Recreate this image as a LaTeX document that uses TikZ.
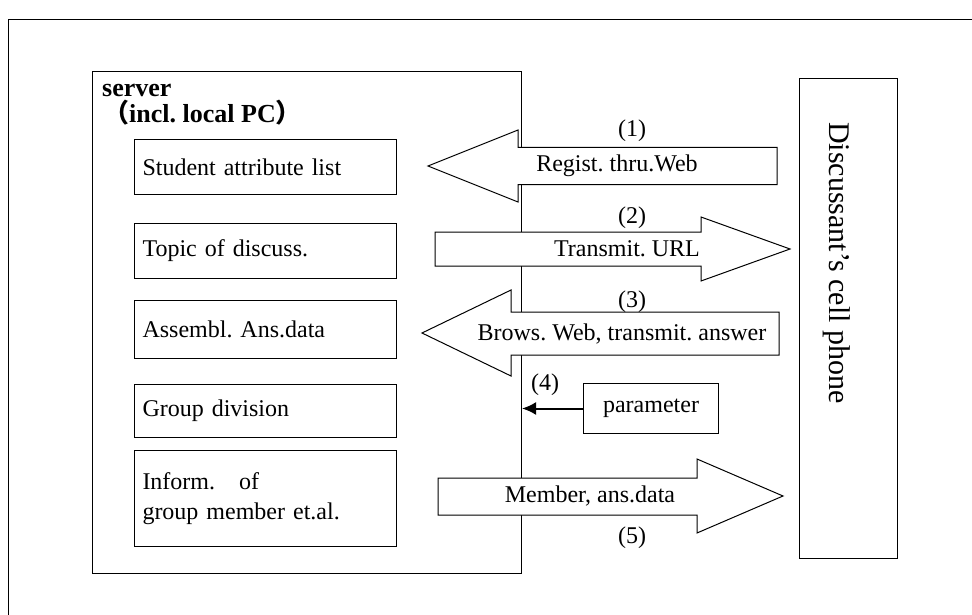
\documentclass[tikz,border=0pt]{standalone}
\usepackage{fontspec}
\setmainfont{Liberation Serif}
\newfontfamily\cjk{Noto Sans CJK JP}
\usetikzlibrary{arrows.meta,positioning}
\frenchspacing

\begin{document}
\begin{tikzpicture}[x=1pt, y=-1pt, arrow/.style = {line width=2pt,-{Latex[length=14pt,width=13pt]}}, font=\fontsize{24}{30}\selectfont]
		\tikzset{box/.style={draw,rectangle,line width=1pt,inner sep=0pt}}
		\tikzset{item/.style={box,anchor=north west,text width=246pt,inner xsep=8pt,align=left}}
		\tikzset{fat/.style={draw,fill=white,line width=1pt,line join=miter}}
		\tikzset{lbl/.style={inner sep=0pt}}

		\useasboundingbox (0,0) rectangle (972,615);

		% Frame
		\draw[line width=1pt] (972,20) -- (8,20) -- (8,615);

		% Server
		\node[box, anchor=north west, minimum width=429pt, minimum height=502pt] (server) at (92,71) {};
		\node[lbl, anchor=base west, font=\fontsize{26}{30}\selectfont\bfseries] (srvname) at (102,97) {server};
		\node[lbl, anchor=base west, font=\fontsize{26}{30}\selectfont\bfseries] (srvpc) at (103,123) {{\cjk （}incl. local PC{\cjk ）}};

		% Server contents
		\node[item, minimum height=55pt] (student) at (134,139) {Student attribute list};
		\node[item, minimum height=55pt] (topic) at (134,223) {Topic of discuss.};
		\node[item, minimum height=58pt] (ansdata) at (134,300) {Assembl. Ans.data};
		\node[item, minimum height=53pt] (groupdiv) at (134,384) {Group division};
		\node[item, minimum height=96pt] (inform) at (134,450) {Inform.\ \ \ of\\group member et.al.};

		% Cell phone
		\node[box, anchor=north west, minimum width=98pt, minimum height=480pt] (phone) at (799,78) {};
		\node[lbl, rotate=-90, font=\fontsize{30}{34}\selectfont] (phonetxt) at (837,263) {Discussant’s cell phone};

		% Parameter
		\node[box, anchor=north west, minimum width=135pt, minimum height=50pt] (param) at (583,383) {parameter};

		% Fat arrows
		\draw[fat] (777,147.5) -- (518,147.5) -- (518,130) -- (428,166) -- (518,202) -- (518,184.5) -- (777,184.5) -- cycle;
		\draw[fat] (435,232) -- (701,232) -- (701,217) -- (790,249) -- (701,281) -- (701,266) -- (435,266) -- cycle;
		\draw[fat] (779,312) -- (511,312) -- (511,290) -- (422,333) -- (511,376) -- (511,355) -- (779,355) -- cycle;
		\draw[fat] (438,478) -- (697,478) -- (697,459) -- (783,496) -- (697,533) -- (697,515) -- (438,515) -- cycle;

		% Arrow texts
		\node[lbl] (regist) at (617,166) {Regist. thru.Web};
		\node[lbl] (url) at (627,249) {Transmit. URL};
		\node[lbl] (answer) at (622,334) {Brows. Web, transmit. answer};
		\node[lbl] (member) at (590,496) {Member, ans.data};

		% Step numbers
		\node[lbl] (s1) at (632,131) {(1)};
		\node[lbl] (s2) at (632,218) {(2)};
		\node[lbl] (s3) at (632,302) {(3)};
		\node[lbl] (s4) at (545,385) {(4)};
		\node[lbl] (s5) at (632,538) {(5)};

		% Arrows
		\draw [arrow] (param.west) -- (param.west -| server.east);

	\end{tikzpicture}
\end{document}
